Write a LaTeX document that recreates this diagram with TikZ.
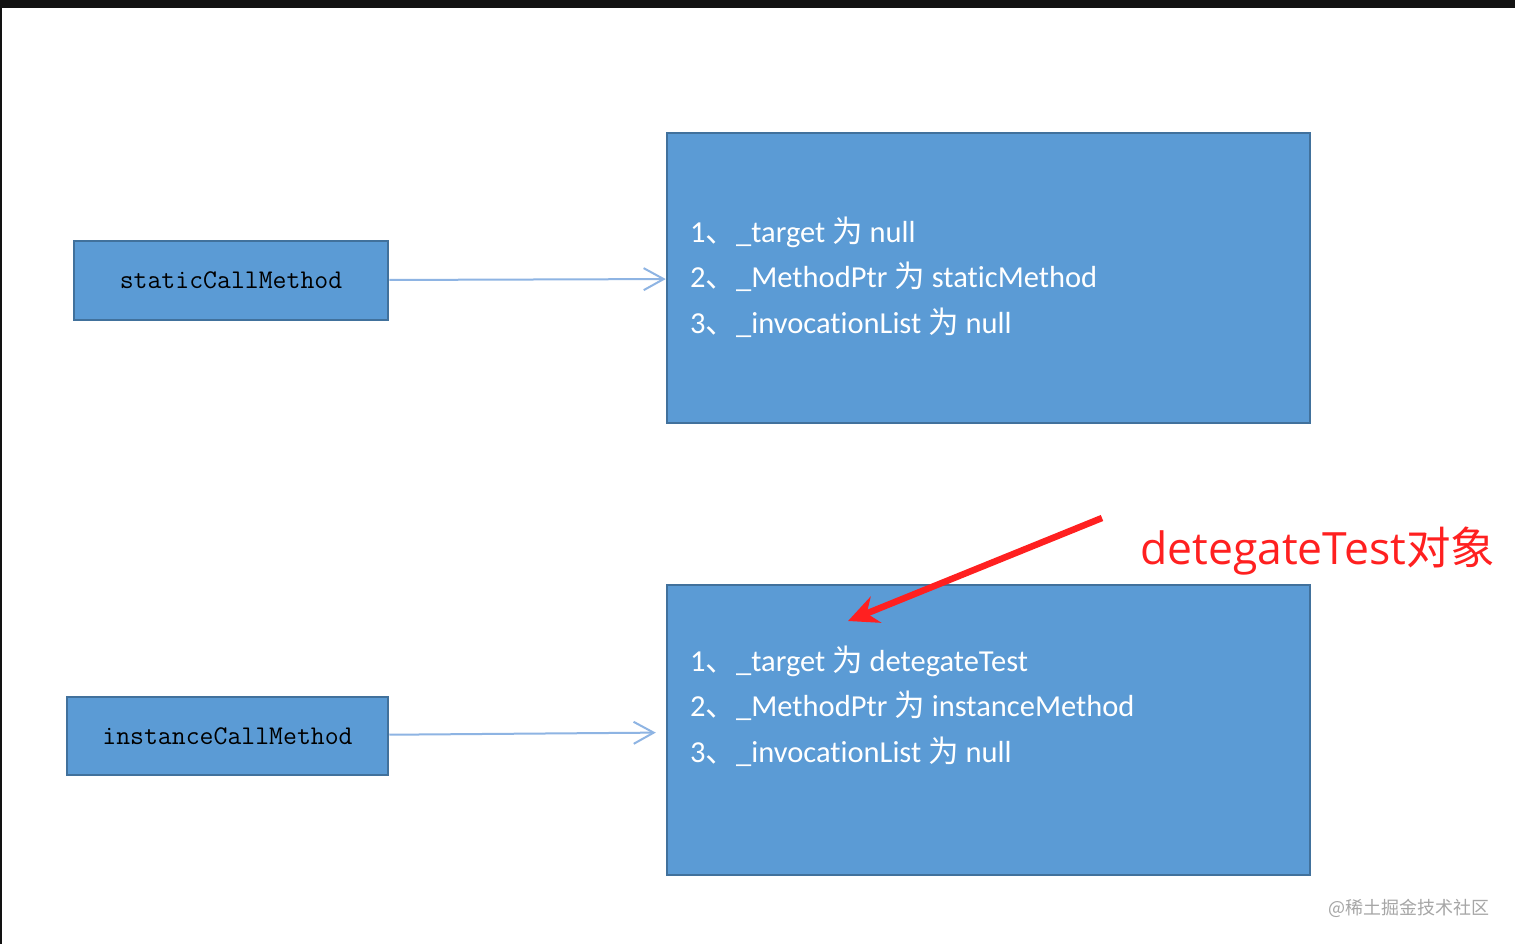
\documentclass[tikz,border=0pt]{standalone}
\usepackage{fontspec}
\setmainfont{Carlito}[Ligatures=NoCommon]
\newfontfamily\cjk{Noto Sans CJK SC}
\newfontfamily\notefont{Open Sans}[Ligatures=NoCommon]
\usepackage{xcolor}
\usetikzlibrary{arrows.meta, positioning}
\definecolor{boxblue}{HTML}{5B9BD5}
\definecolor{boxedge}{HTML}{41719C}
\definecolor{linkblue}{HTML}{8EB4E3}
\definecolor{notered}{HTML}{FF2020}

\begin{document}
\begin{tikzpicture}[x=1pt, y=-1pt,
        box/.style={rectangle, draw=boxedge, line width=2.5pt, fill=boxblue, inner sep=0pt},
        callbox/.style={box, font=\ttfamily\fontsize{27}{31}\selectfont},
        field/.style={anchor=base west, text=white, inner sep=0pt, font=\fontsize{30.5}{36}\selectfont},
        link/.style={draw=linkblue, line width=2pt, -{Straight Barb[length=20pt, width=22pt, line width=2pt]}}]
        \useasboundingbox[fill=white] (0,0) rectangle (1515,944);
        \fill[black!93] (0,0) rectangle (1515,8);
        \fill[black!93] (0,0) rectangle (2,944);

        \node[callbox, minimum width=314pt, minimum height=79pt] (static) at (231, 280.5) {staticCallMethod};
        \node[callbox, minimum width=321pt, minimum height=78pt] (instance) at (227.5, 736) {instanceCallMethod};
        \node[box, minimum width=643pt, minimum height=290pt] (obj1) at (988.5, 278) {};
        \node[box, minimum width=643pt, minimum height=290pt] (obj2) at (988.5, 730) {};

        \node[field] (f1a) at (690, 242) {1{\cjk 、}\_target {\cjk 为} null};
        \node[field] (f1b) at (690, 287.5) {2{\cjk 、}\_MethodPtr {\cjk 为} staticMethod};
        \node[field] (f1c) at (690, 333) {3{\cjk 、}\_invocationList {\cjk 为} null};
        \node[field] (f2a) at (690, 671) {1{\cjk 、}\_target {\cjk 为} detegateTest};
        \node[field] (f2b) at (690, 716.5) {2{\cjk 、}\_MethodPtr {\cjk 为} instanceMethod};
        \node[field] (f2c) at (690, 762) {3{\cjk 、}\_invocationList {\cjk 为} null};

        \node[anchor=base west, inner sep=0pt, text=notered, font=\notefont\fontsize{44.5}{52}\selectfont] (note) at (1140, 564) {detegateTest{\cjk 对象}};
        \coordinate (notetail) at (1102, 518);
        \coordinate (notetip) at (848, 621);

        \node[anchor=east, inner sep=0pt, text=black!35, font=\cjk\fontsize{18}{22}\selectfont] (mark) at (1490, 908) {@稀土掘金技术社区};

        \draw[link] (static) to (obj1);
        \draw[link, shorten >=10pt] (instance) to (obj2);
        \draw[notered, line width=6.5pt, -{Stealth[length=30pt, width=28pt]}] (notetail) to (notetip);
    \end{tikzpicture}
\end{document}
